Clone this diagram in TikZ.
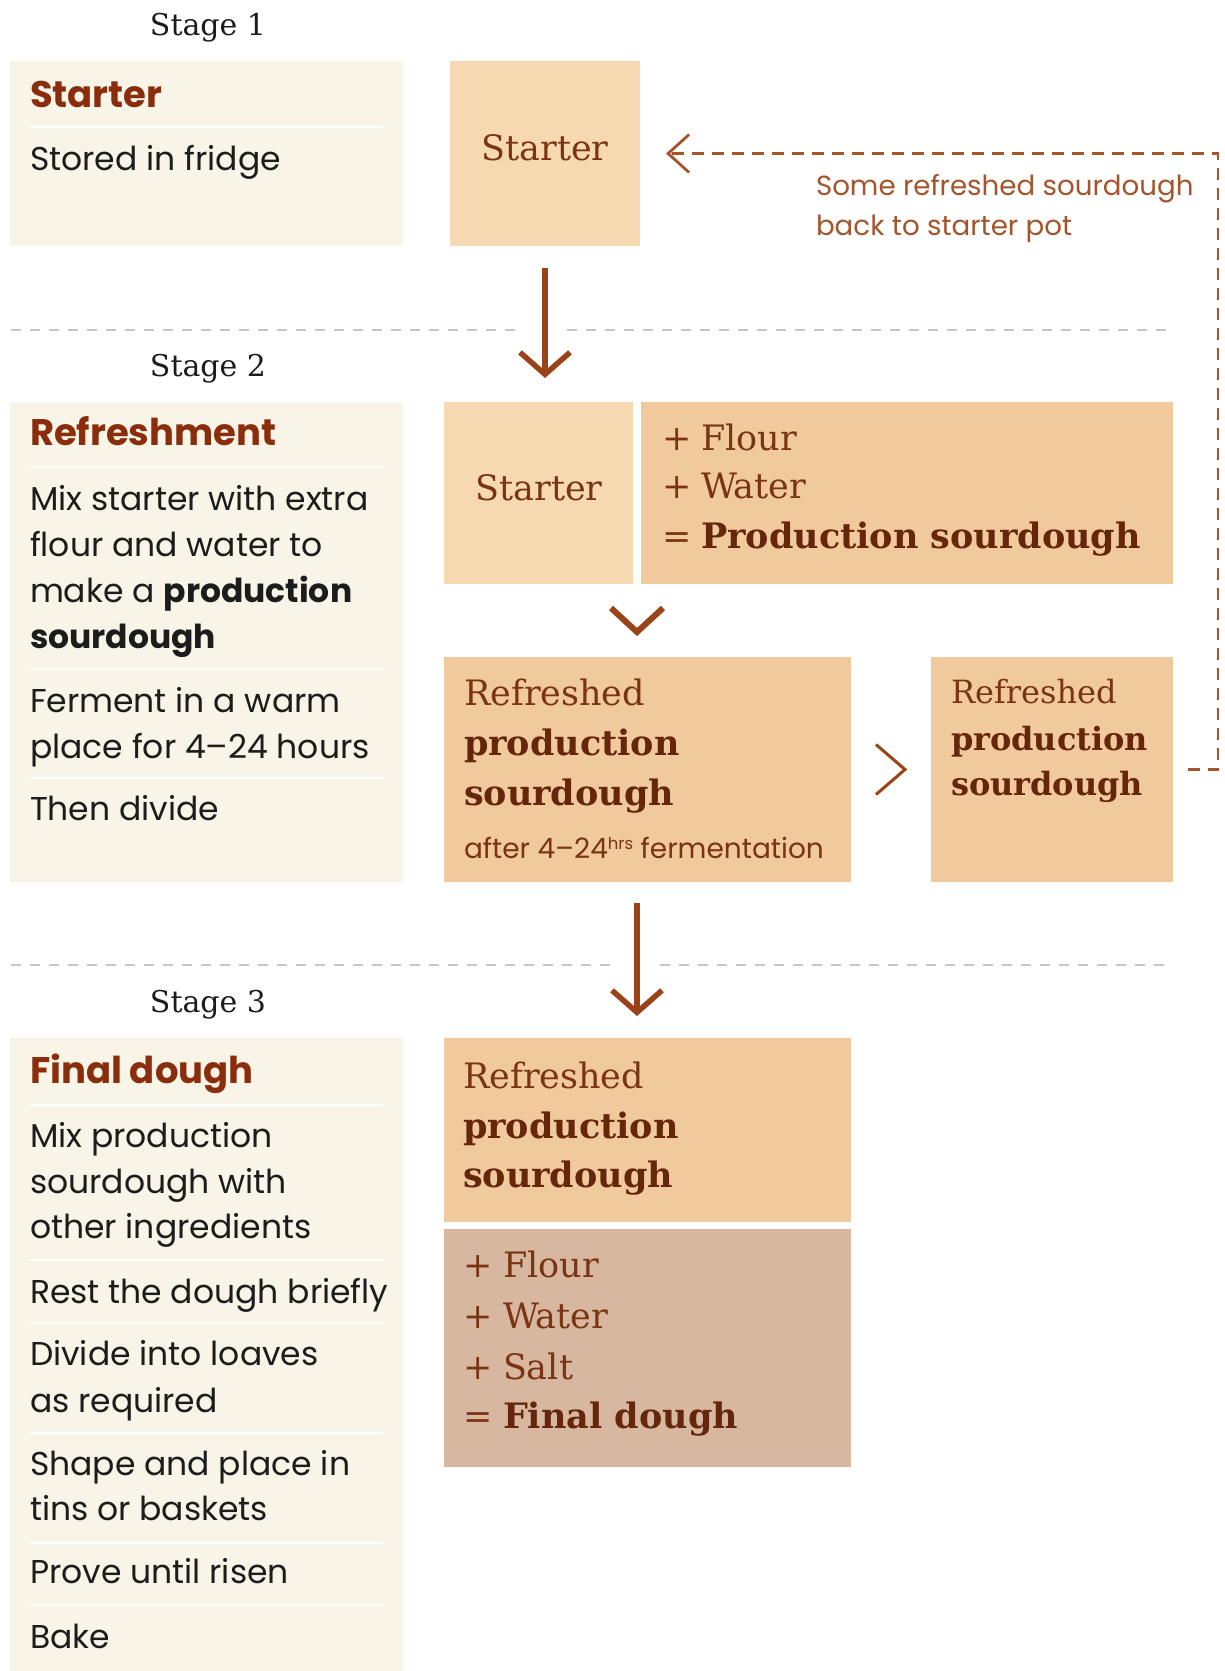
\documentclass[tikz,border=0pt]{standalone}
\usepackage{fontspec}
\setmainfont{DejaVu Serif}
\setsansfont{Poppins}
\usetikzlibrary{arrows.meta,calc}
\definecolor{panel}{HTML}{F8F4E7}
\definecolor{boxA}{HTML}{F6D9B0}
\definecolor{boxB}{HTML}{F0C99D}
\definecolor{boxC}{HTML}{D8B7A0}
\definecolor{titlec}{HTML}{8A2D0C}
\definecolor{serifc}{HTML}{7A3413}
\definecolor{serdark}{HTML}{66260B}
\definecolor{arrowc}{HTML}{9A4318}
\definecolor{dashc}{HTML}{A4552B}
\definecolor{sepc}{HTML}{C6C6C6}
\definecolor{ink}{HTML}{1C1C1C}
\begin{document}
\begin{tikzpicture}[x=1pt,y=-1pt,
  every node/.style={inner sep=0pt, outer sep=0pt},
  panelbg/.style={fill=panel, anchor=north west},
  boxa/.style={fill=boxA, anchor=north west},
  boxb/.style={fill=boxB, anchor=north west},
  boxc/.style={fill=boxC, anchor=north west},
  stagelbl/.style={anchor=base, font=\fontsize{30}{36}\selectfont, text=ink},
  ptitle/.style={anchor=base west, font=\sffamily\bfseries\fontsize{37}{42}\selectfont, text=titlec},
  pbody/.style={anchor=base west, font=\sffamily\fontsize{33}{46}\selectfont, text=ink},
  psep/.style={draw=white, line width=2pt},
  gsep/.style={draw=sepc, line width=1.6pt, dash pattern=on 10pt off 9pt},
  sertext/.style={anchor=base west, font=\fontsize{35}{40}\selectfont, text=serifc},
  serbold/.style={anchor=base west, font=\bfseries\fontsize{35}{40}\selectfont, text=serdark},
  sersmall/.style={anchor=base west, font=\fontsize{32}{40}\selectfont, text=serifc},
  serboldsmall/.style={anchor=base west, font=\bfseries\fontsize{32}{40}\selectfont, text=serdark},
  fblabel/.style={anchor=base west, font=\sffamily\fontsize{27.7}{40}\selectfont, text=dashc},
  bigarrow/.style={draw=arrowc, line width=5.5pt, -{Straight Barb[length=22pt,width=50pt]}},
  chevthick/.style={draw=arrowc, line width=6pt},
  chevthin/.style={draw=arrowc, line width=3pt},
  fbline/.style={draw=dashc, line width=2.8pt, dash pattern=on 12pt off 8pt, -{Straight Barb[length=21pt,width=38pt]}}
]
\useasboundingbox (0,0) rectangle (1225,1671);
\fill[white] (0,0) rectangle (1225,1671);

% stage labels
\node[stagelbl] (st1) at (208,35) {Stage 1};
\node[stagelbl] (st2) at (208,376) {Stage 2};
\node[stagelbl] (st3) at (208,1012) {Stage 3};

% separators
\draw[gsep] (11,330) -- (523,330);
\draw[gsep] (567,330) -- (1173,330);
\draw[gsep] (11,965) -- (615,965);
\draw[gsep] (660,965) -- (1173,965);

% ---------- left panels
\node[panelbg, minimum width=393pt, minimum height=185pt] (p1) at (10,61) {};
\node[ptitle] (p1t) at (30,107) {Starter};
\draw[psep] (30,127) -- (383,127);
\node[pbody] (p1a) at (30,170) {Stored in fridge};

\node[panelbg, minimum width=393pt, minimum height=480pt] (p2) at (10,402) {};
\node[ptitle] (p2t) at (30,445) {Refreshment};
\draw[psep] (30,467) -- (383,467);
\node[pbody] (p2a) at (30,510) {Mix starter with extra};
\node[pbody] (p2b) at (30,556) {flour and water to};
\node[pbody] (p2c) at (30,602) {make a \textbf{production}};
\node[pbody] (p2d) at (30,648) {\textbf{sourdough}};
\draw[psep] (30,669) -- (383,669);
\node[pbody] (p2e) at (30,712) {Ferment in a warm};
\node[pbody] (p2f) at (30,758) {place for 4–24 hours};
\draw[psep] (30,778) -- (383,778);
\node[pbody] (p2g) at (30,820) {Then divide};

\node[panelbg, minimum width=393pt, minimum height=633pt] (p3) at (10,1038) {};
\node[ptitle] (p3t) at (30,1083) {Final dough};
\draw[psep] (30,1105) -- (383,1105);
\node[pbody] (p3a) at (30,1147) {Mix production};
\node[pbody] (p3b) at (30,1193) {sourdough with};
\node[pbody] (p3c) at (30,1238) {other ingredients};
\draw[psep] (30,1260) -- (383,1260);
\node[pbody] (p3d) at (30,1303) {Rest the dough briefly};
\draw[psep] (30,1323) -- (383,1323);
\node[pbody] (p3e) at (30,1365) {Divide into loaves};
\node[pbody] (p3f) at (30,1412) {as required};
\draw[psep] (30,1433) -- (383,1433);
\node[pbody] (p3g) at (30,1475) {Shape and place in};
\node[pbody] (p3h) at (30,1520) {tins or baskets};
\draw[psep] (30,1543) -- (383,1543);
\node[pbody] (p3i) at (30,1583) {Prove until risen};
\draw[psep] (30,1605) -- (383,1605);
\node[pbody] (p3j) at (30,1648) {Bake};

% ---------- stage 1 box
\node[boxa, minimum width=190pt, minimum height=185pt] (s1box) at (450,61) {};
\node[sertext, anchor=base] (s1txt) at (545,160) {Starter};

% ---------- stage 2 boxes
\node[boxa, minimum width=189pt, minimum height=182pt] (s2start) at (444,402) {};
\node[sertext, anchor=base] (s2txt) at (539,500) {Starter};
\node[boxb, minimum width=532pt, minimum height=182pt] (form) at (641,402) {};
\node[sertext] (f1p) at (662,450) {+};
\node[sertext] (f1) at (701,450) {Flour};
\node[sertext] (f2p) at (662,498) {+};
\node[sertext] (f2) at (701,498) {Water};
\node[sertext] (f3p) at (662,548) {=};
\node[serbold] (f3) at (701,548) {Production sourdough};

\node[boxb, minimum width=407pt, minimum height=225pt] (ref1) at (444,657) {};
\node[sertext] (r1a) at (464,705) {Refreshed};
\node[serbold] (r1b) at (464,755) {production};
\node[serbold] (r1c) at (464,805) {sourdough};
\node[anchor=base west, font=\sffamily\fontsize{28}{30}\selectfont, text=serifc] (r1d) at (464,858)
  {after 4–24\raisebox{9pt}{\fontsize{16.5}{16.5}\selectfont hrs} fermentation};

\node[boxb, minimum width=242pt, minimum height=225pt] (ref2) at (931,657) {};
\node[sersmall] (r2a) at (951,703) {Refreshed};
\node[serboldsmall] (r2b) at (951,750) {production};
\node[serboldsmall] (r2c) at (951,795) {sourdough};

% ---------- stage 3 boxes
\node[boxb, minimum width=407pt, minimum height=184pt] (ref3) at (444,1038) {};
\node[sertext] (r3a) at (463,1088) {Refreshed};
\node[serbold] (r3b) at (463,1138) {production};
\node[serbold] (r3c) at (463,1187) {sourdough};

\node[boxc, minimum width=407pt, minimum height=238pt] (fin) at (444,1229) {};
\node[sertext] (g1p) at (463,1277) {+};
\node[sertext] (g1) at (503,1277) {Flour};
\node[sertext] (g2p) at (463,1328) {+};
\node[sertext] (g2) at (503,1328) {Water};
\node[sertext] (g3p) at (463,1379) {+};
\node[sertext] (g3) at (503,1379) {Salt};
\node[sertext] (g4p) at (463,1428) {=};
\node[serbold] (g4) at (503,1428) {Final dough};

% ---------- connectors
\draw[bigarrow, shorten <=22pt, shorten >=24pt] (s1box.south) -- (s1box.south |- s2start.north);

\coordinate (gapc) at ($(s2start.south east)!0.5!(form.south west)$);
\draw[chevthick] ($(gapc)+(-26,24)$) -- ($(gapc)+(0,48)$) -- ($(gapc)+(26,24)$);

\draw[chevthin] ($(ref1.east)+(25,-25)$) -- ($(ref1.east)+(54,0)$) -- ($(ref1.east)+(25,25)$);

\draw[bigarrow, shorten <=21pt, shorten >=22pt] (ref1.south -| gapc) -- (ref3.north -| gapc);

\draw[fbline, shorten <=15pt, shorten >=26pt] (ref2.east) -- ++(45,0) |- (s1box.east);
\node[fblabel] (fbl1) at (816,195) {Some refreshed sourdough};
\node[fblabel] (fbl2) at (816,235) {back to starter pot};
\end{tikzpicture}
\end{document}
